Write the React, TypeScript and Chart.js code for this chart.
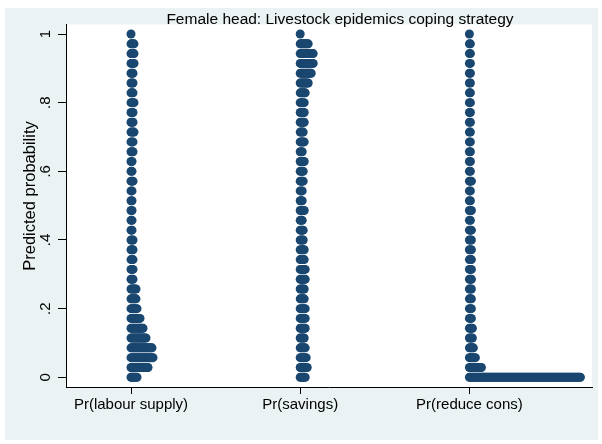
import React, { useEffect, useRef } from "react";
import { Chart, registerables } from "chart.js";

Chart.register(...registerables);

// ---- data ----
const categories = ["Pr(labour supply)", "Pr(savings)", "Pr(reduce cons)"];
const binsPerUnit = 35; // dot plot bins: value = bin / 35
// number of observations stacked in each bin (bin 0 .. bin 35)
const labourCounts = [7, 18, 23, 22, 16, 13, 10, 7, 6, 6, 3, 3, 3, 3, 3, 2, 2, 2, 2, 2, 3, 2, 2, 3, 3, 4, 3, 3, 4, 3, 3, 3, 4, 4, 4, 1];
const savingsCounts = [6, 8, 7, 6, 5, 6, 6, 6, 5, 5, 6, 6, 5, 5, 4, 4, 3, 5, 3, 3, 4, 4, 5, 3, 5, 4, 5, 5, 5, 6, 9, 12, 14, 14, 9, 1];
const reduceCounts = [112, 13, 7, 5, 4, 4, 3, 3, 3, 3, 3, 3, 3, 3, 3, 3, 2, 3, 2, 2, 3, 2, 2, 2, 2, 2, 2, 2, 2, 2, 2, 2, 2, 2, 2, 1];
const yTickValues = [0, 0.2, 0.4, 0.6, 0.8, 1];
const yTickLabels = ["0", ".2", ".4", ".6", ".8", "1"];
const titleText = "Female head: Livestock epidemics coping strategy";
const yTitleText = "Predicted probability";

// ---- styles ----
const DOT_STEP = 1 / 169.2; // horizontal offset between stacked dots (x units)
const NAVY = "#1a476f";
const BG = "#eaf2f3";
const FONT = "'Liberation Sans', Arial, Helvetica, sans-serif";

function buildPoints(counts: number[], group: number) {
  const pts: { x: number; y: number }[] = [];
  counts.forEach((c, b) => {
    for (let j = 0; j < c; j++) pts.push({ x: group + j * DOT_STEP, y: b / binsPerUnit });
  });
  return pts;
}

const backgroundPlugin = {
  id: "bgPlugin",
  beforeDraw(chart: any) {
    const { ctx, chartArea } = chart;
    ctx.save();
    ctx.fillStyle = "#ffffff";
    ctx.fillRect(0, 0, chart.width, chart.height);
    ctx.fillStyle = BG;
    ctx.fillRect(5, 8, 593, 432);
    ctx.fillStyle = "#ffffff";
    ctx.fillRect(chartArea.left, chartArea.top, chartArea.right - chartArea.left, chartArea.bottom - chartArea.top);
    ctx.restore();
  },
  afterDraw(chart: any) {
    const { ctx } = chart;
    ctx.save();
    ctx.fillStyle = "#000";
    ctx.font = `15.5px ${FONT}`;
    ctx.textAlign = "center";
    ctx.textBaseline = "alphabetic";
    ctx.fillText(titleText, 340, 24);
    ctx.translate(30, 196);
    ctx.rotate(-Math.PI / 2);
    ctx.font = `16.5px ${FONT}`;
    ctx.textBaseline = "middle";
    ctx.fillText(yTitleText, 0, 0);
    ctx.restore();
  },
};

export default function App() {
  const ref = useRef<HTMLCanvasElement | null>(null);
  useEffect(() => {
    if (!ref.current) return;
    const datasets = [labourCounts, savingsCounts, reduceCounts].map((counts, i) => ({
      label: categories[i],
      data: buildPoints(counts, i + 1),
      pointRadius: 4.5,
      pointBorderWidth: 0,
      pointBackgroundColor: NAVY,
      pointBorderColor: NAVY,
      showLine: false,
    }));
    const chart = new Chart(ref.current, {
      type: "scatter",
      data: { datasets },
      plugins: [backgroundPlugin],
      options: {
        responsive: false,
        animation: false,
        events: [],
        layout: { padding: { top: 24.5, right: 10, left: 0, bottom: 0 } },
        plugins: {
          legend: { display: false },
          tooltip: { enabled: false },
          title: { display: false },
        },
        scales: {
          x: {
            type: "linear",
            min: 0.6158,
            max: 3.7246,
            afterBuildTicks: (s: any) => {
              s.ticks = categories.map((_, i) => ({ value: i + 1 }));
            },
            afterFit: (s: any) => {
              s.height = 57;
            },
            ticks: {
              callback: (_v: any, i: number) => categories[i],
              font: { family: FONT, size: 15 },
              color: "#000",
              padding: 2,
              maxRotation: 0,
              autoSkip: false,
            },
            grid: { drawOnChartArea: false, drawTicks: true, tickLength: 7, color: "#000" },
            border: { display: true, color: "#000" },
          },
          y: {
            type: "linear",
            min: -0.0283,
            max: 1.0277,
            afterBuildTicks: (s: any) => {
              s.ticks = yTickValues.map((v) => ({ value: v }));
            },
            afterFit: (s: any) => {
              s.width = 66;
            },
            ticks: {
              callback: (_v: any, i: number) => yTickLabels[i],
              font: { family: FONT, size: 15 },
              color: "#000",
              minRotation: 90,
              maxRotation: 90,
              crossAlign: "center",
              padding: 6,
              autoSkip: false,
            },
            grid: { drawOnChartArea: false, drawTicks: true, tickLength: 8, color: "#000" },
            border: { display: true, color: "#000" },
          },
        },
      } as any,
    });
    return () => chart.destroy();
  }, []);
  return (
    <div style={{ position: "absolute", left: 0, top: 0, width: 602, height: 444 }}>
      <canvas ref={ref} width={602} height={444} style={{ display: "block" }} />
    </div>
  );
}
